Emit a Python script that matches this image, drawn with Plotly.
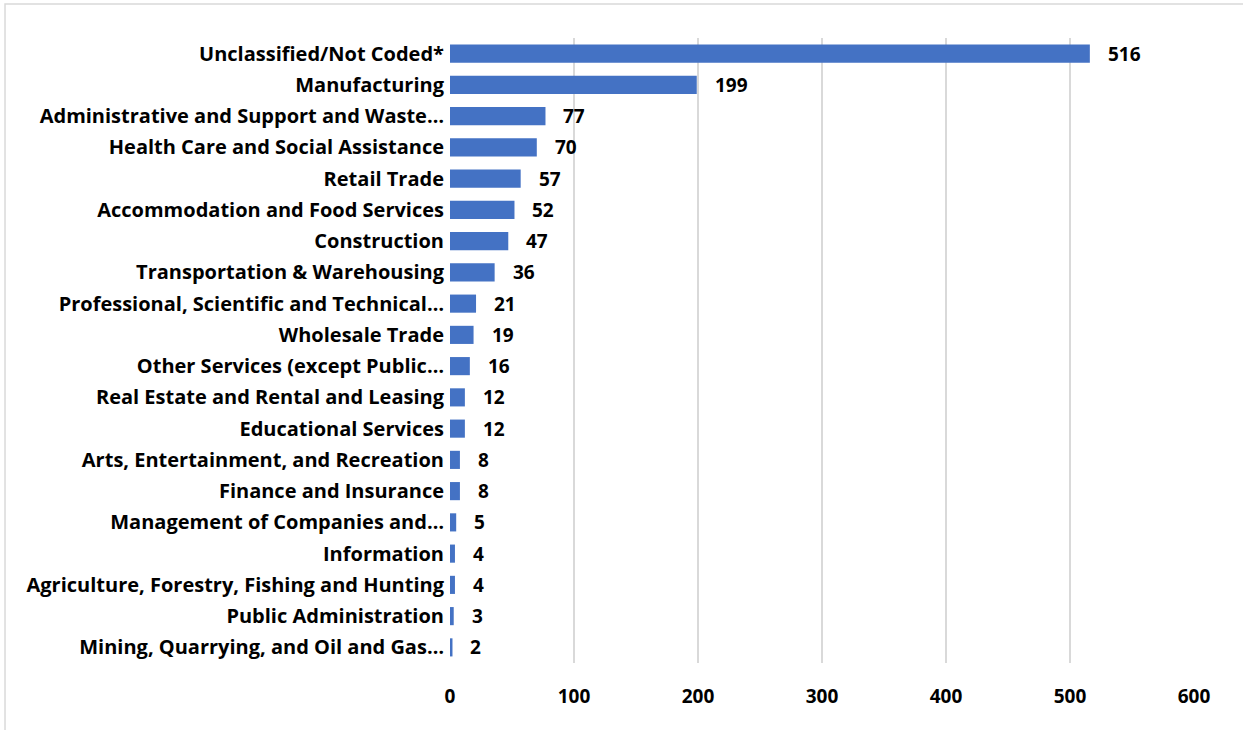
import plotly.graph_objects as go

categories = [
    "Unclassified/Not Coded*",
    "Manufacturing",
    "Administrative and Support and Waste…",
    "Health Care and Social Assistance",
    "Retail Trade",
    "Accommodation and Food Services",
    "Construction",
    "Transportation & Warehousing",
    "Professional, Scientific and Technical…",
    "Wholesale Trade",
    "Other Services (except Public…",
    "Real Estate and Rental and Leasing",
    "Educational Services",
    "Arts, Entertainment, and Recreation",
    "Finance and Insurance",
    "Management of Companies and…",
    "Information",
    "Agriculture, Forestry, Fishing and Hunting",
    "Public Administration",
    "Mining, Quarrying, and Oil and Gas…",
]
values = [516, 199, 77, 70, 57, 52, 47, 36, 21, 19, 16, 12, 12, 8, 8, 5, 4, 4, 3, 2]
x_ticks = [0, 100, 200, 300, 400, 500, 600]

FONT = "Open Sans"
FS = 20
fig = go.Figure()
fig.add_trace(go.Bar(
    y=categories, x=values, orientation="h",
    marker=dict(color="#4472C4", line=dict(width=0)),
    width=0.58, hoverinfo="x+y",
))
for c, v in zip(categories, values):
    fig.add_annotation(x=v, y=c, text=f"<b>{v}</b>", showarrow=False,
                       xanchor="left", xshift=16,
                       font=dict(family=FONT, size=19, color="black"))

# outer chart frame (extends past the right and bottom edges)
fig.add_shape(type="rect", xref="paper", yref="paper",
              x0=-0.5981, x1=1.2, y0=-0.3, y1=1.0544,
              line=dict(color="#d9d9d9", width=1.5), layer="below")

fig.update_layout(
    width=1243, height=730,
    margin=dict(l=450, r=49, t=38, b=67),
    paper_bgcolor="white", plot_bgcolor="white",
    showlegend=False, bargap=0.42,
    font=dict(family=FONT, size=FS, color="black"),
)
fig.update_xaxes(range=[0, 600], tickvals=x_ticks,
                 ticktext=[f"<b>{t}</b>" for t in x_ticks],
                 showgrid=True, gridcolor="#d9d9d9", gridwidth=1.5,
                 zeroline=False, showline=False, ticklabelstandoff=20,
                 tickfont=dict(family=FONT, size=19, color="black"))
fig.update_yaxes(autorange="reversed", showgrid=False, showline=False,
                 ticktext=[f"<b>{c}</b>" for c in categories],
                 tickvals=categories, ticklabelstandoff=5,
                 tickfont=dict(family=FONT, size=FS, color="black"))

fig.write_html("out.html", config={"displayModeBar": False},
               post_script="document.body.style.margin='0px';document.body.style.overflow='hidden';")
